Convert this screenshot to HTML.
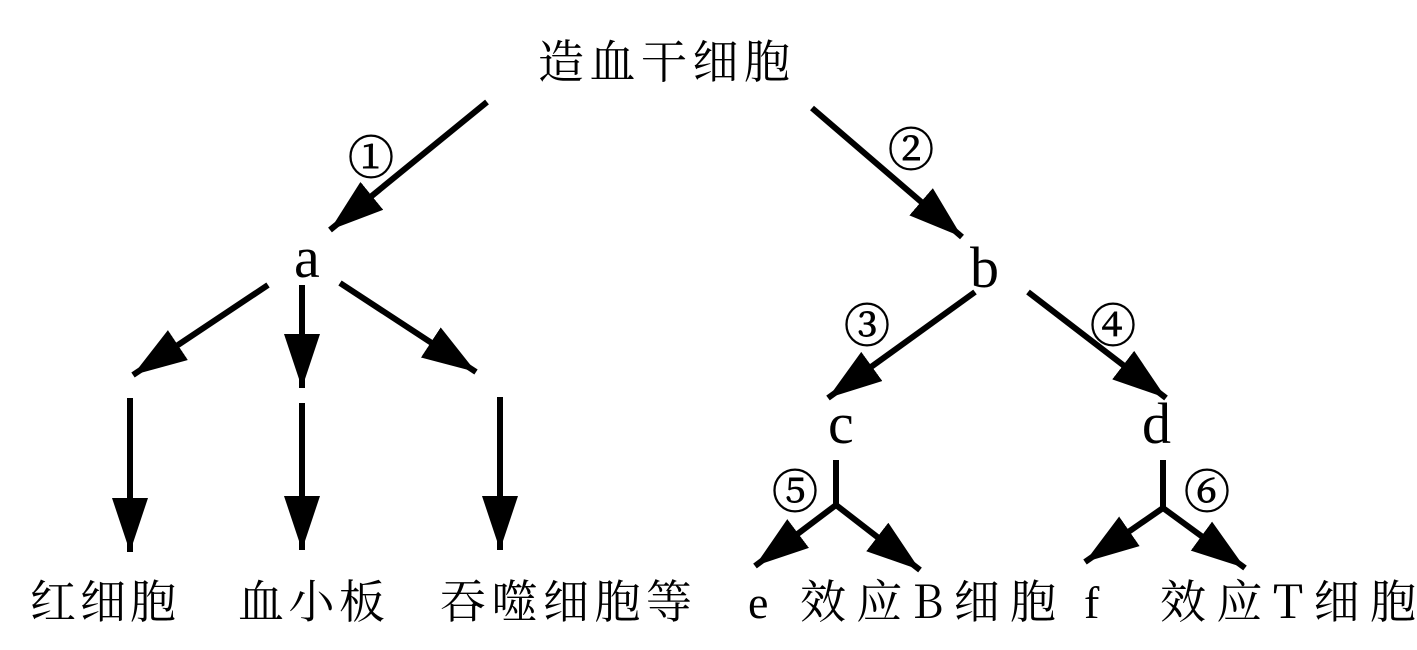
<!DOCTYPE html>
<html><head><meta charset="utf-8"><style>
html,body{margin:0;padding:0;background:#fff;}
svg{display:block;}
text{font-family:"Liberation Serif","Noto Serif CJK SC",serif;fill:#000;}
.cn{font-family:"Noto Serif CJK SC","Noto Sans CJK SC",serif;font-size:46px;}
.lt{font-size:58px;}
.num{font-family:"Noto Serif CJK SC","Noto Sans CJK SC",serif;font-size:46px;stroke:#000;stroke-width:0.9;}
</style></head><body>
<svg width="1417" height="650" viewBox="0 0 1417 650" xmlns="http://www.w3.org/2000/svg">
<defs>
<marker id="ah" markerUnits="userSpaceOnUse" markerWidth="58" markerHeight="40" refX="54" refY="18" orient="auto">
<path d="M0,0 L54,18 L0,36 Z" fill="#000"/>
</marker>
</defs>
<g stroke="#000" stroke-width="6" fill="none">
<line x1="487" y1="102" x2="330" y2="230" marker-end="url(#ah)"/>
<line x1="812" y1="108" x2="962" y2="237" marker-end="url(#ah)"/>
<line x1="268" y1="285" x2="133" y2="375" marker-end="url(#ah)"/>
<line x1="302" y1="285" x2="302" y2="388" marker-end="url(#ah)"/>
<line x1="340" y1="283" x2="476" y2="372" marker-end="url(#ah)"/>
<line x1="130" y1="398" x2="130" y2="552" marker-end="url(#ah)"/>
<line x1="302" y1="403" x2="302" y2="550" marker-end="url(#ah)"/>
<line x1="500" y1="397" x2="500" y2="550" marker-end="url(#ah)"/>
<line x1="975" y1="292" x2="828" y2="398" marker-end="url(#ah)"/>
<line x1="1028" y1="292" x2="1166" y2="398" marker-end="url(#ah)"/>
<polyline points="836,460 836,505"/>
<line x1="836" y1="505" x2="755" y2="566" marker-end="url(#ah)"/>
<line x1="836" y1="505" x2="920" y2="570" marker-end="url(#ah)"/>
<polyline points="1163,460 1163,508"/>
<line x1="1163" y1="508" x2="1085" y2="562" marker-end="url(#ah)"/>
<line x1="1163" y1="508" x2="1245" y2="568" marker-end="url(#ah)"/>
</g>
<text class="cn" x="538" y="78" textLength="252">造血干细胞</text>
<text class="lt" x="294" y="277">a</text>
<text class="lt" x="970" y="287">b</text>
<text class="lt" x="828" y="443">c</text>
<text class="lt" x="1142" y="443">d</text>
<text class="num" x="348" y="174">①</text>
<text class="num" x="888" y="166">②</text>
<text class="num" x="844" y="342">③</text>
<text class="num" x="1090" y="342">④</text>
<text class="num" x="772" y="508">⑤</text>
<text class="num" x="1184" y="508">⑥</text>
<text class="cn" x="30" y="618" textLength="146">红细胞</text>
<text class="cn" x="238" y="618" textLength="147">血小板</text>
<text class="cn" x="440" y="618" textLength="252">吞噬细胞等</text>
<text class="lt" x="748" y="618" style="font-size:46px">e</text>
<text class="cn" x="800" y="618" textLength="256">效应B细胞</text>
<text class="lt" x="1084" y="618" style="font-size:46px">f</text>
<text class="cn" x="1160" y="618" textLength="256">效应T细胞</text>
</svg>
</body></html>
